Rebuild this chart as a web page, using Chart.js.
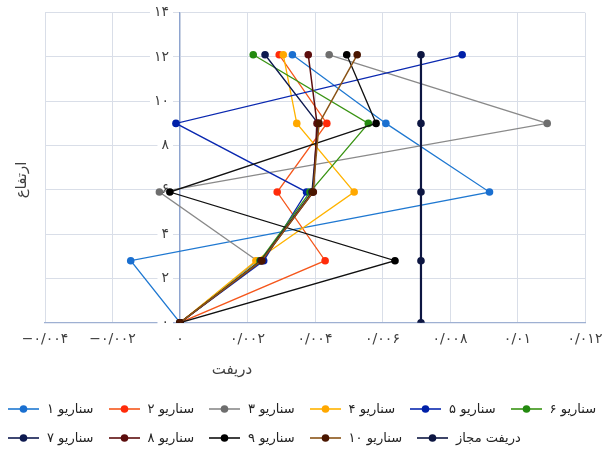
<!DOCTYPE html>
<html><head><meta charset="utf-8">
<script src="https://cdn.jsdelivr.net/npm/chart.js@4.4.1/dist/chart.umd.min.js"></script>
<style>
html,body{margin:0;padding:0;background:#fff;}
#wrap{position:relative;width:605px;height:453px;}
#legend{position:absolute;left:8px;top:394px;font-family:"DejaVu Sans";font-size:13px;color:#222;}
.row{display:flex;align-items:center;height:29px;white-space:nowrap;}
.item{display:flex;align-items:center;margin-right:15px;}
.item svg{margin-right:8px;}
</style></head><body>
<div id="wrap"><canvas id="c" width="605" height="453"></canvas><div id="legend"></div></div>
<script>
// Heights (levels) and drift values per scenario
const heights = [0, 2.8, 5.9, 9.0, 12.1];
const seriesNames = ['سناریو ۱','سناریو ۲','سناریو ۳','سناریو ۴','سناریو ۵','سناریو ۶','سناریو ۷','سناریو ۸','سناریو ۹','سناریو ۱۰','دریفت مجاز'];
const s1 = [0, -0.00146, 0.00917, 0.0061, 0.00333];
const s2 = [0, 0.0043, 0.00288, 0.00435, 0.00294];
const s3 = [0, 0.00229, -0.00061, 0.01088, 0.00442];
const s4 = [0, 0.00225, 0.00516, 0.00346, 0.00306];
const s5 = [0, 0.00248, 0.00375, -0.00012, 0.00836];
const s6 = [0, 0.00237, 0.00385, 0.00558, 0.00217];
const s7 = [0, 0.0024, 0.00391, 0.00409, 0.00252];
const s8 = [0, 0.00242, 0.00395, 0.00406, 0.0038];
const s9 = [0, 0.00637, -0.0003, 0.00581, 0.00494];
const s10 = [0, 0.00242, 0.00394, 0.00412, 0.00525];
const allowed = [0.00714, 0.00714, 0.00714, 0.00714, 0.00714];
const xTickLabels = ['−۰/۰۰۴','−۰/۰۰۲','۰','۰/۰۰۲','۰/۰۰۴','۰/۰۰۶','۰/۰۰۸','۰/۰۱','۰/۰۱۲'];
const yTickLabels = ['۰','۲','۴','۶','۸','۱۰','۱۲','۱۴'];
const xTitle = 'دریفت';
const yTitle = 'ارتفاع';

const allSeries = [s1,s2,s3,s4,s5,s6,s7,s8,s9,s10,allowed];
const lineColors = ['#1F78D1','#F5571C','#8A8A8A','#FFB300','#0A28B0','#3A9414','#0E1A50','#5C0D0D','#101010','#8A5316','#0D1642'];
const pointColors = ['#1A6FD0','#FF2B0A','#6E6E6E','#FFA800','#0020A8','#248A10','#0E1A50','#5C0D0D','#000000','#4A1600','#0D1642'];
const lineWidths = [1.3,1.3,1.3,1.3,1.3,1.3,1.4,1.5,1.3,1.5,2.2];

const datasets = allSeries.map((vals, i) => ({
  label: seriesNames[i],
  data: vals.map((v, j) => ({x: v, y: heights[j]})),
  borderColor: lineColors[i],
  backgroundColor: pointColors[i],
  pointBackgroundColor: pointColors[i],
  pointBorderColor: pointColors[i],
  borderWidth: lineWidths[i],
  pointRadius: 3.8,
  pointBorderWidth: 0,
  showLine: true,
  fill: false,
  tension: 0,
  order: -i
}));

const titlePlugin = {
  id: 'titles',
  beforeDraw(chart) {
    // move the y labels a little further left of the axis line
    const ys = chart.scales.y;
    const items = ys.getLabelItems();
    items.forEach(it => {
      if (!it._shifted) { it.options.translation[0] -= 11; it._shifted = true; }
    });
  },
  afterDraw(chart) {
    const ctx = chart.ctx;
    ctx.save();
    ctx.font = '15px "DejaVu Sans"';
    ctx.fillStyle = '#404040';
    ctx.textAlign = 'center';
    ctx.textBaseline = 'middle';
    ctx.fillText(xTitle, 232, 370);
    ctx.translate(22, 180);
    ctx.rotate(-Math.PI / 2);
    ctx.fillText(yTitle, 0, 0);
    ctx.restore();
  }
};

new Chart(document.getElementById('c'), {
  type: 'scatter',
  data: { datasets },
  plugins: [titlePlugin],
  options: {
    responsive: false,
    animation: false,
    layout: { padding: { left: 45, right: 20, top: 12.7, bottom: 100.3 } },
    plugins: { legend: { display: false }, tooltip: { enabled: false } },
    scales: {
      x: {
        type: 'linear', position: 'bottom', min: -0.004, max: 0.012,
        ticks: { stepSize: 0.002, autoSkip: false, maxRotation: 0, padding: 8,
          callback: (v, i) => xTickLabels[i],
          font: { family: 'DejaVu Sans', size: 14 }, color: '#404040' },
        grid: { color: '#D9DEE8', drawTicks: false },
        border: { color: '#9EB0D2', width: 1.2 },
        afterFit(s) { s.height = 30; s.paddingLeft = 0; s.paddingRight = 0; }
      },
      y: {
        type: 'linear', position: { x: 0 }, min: 0, max: 14,
        ticks: { stepSize: 2, padding: 0, autoSkip: false,
          callback: (v, i) => yTickLabels[i],
          font: { family: 'DejaVu Sans', size: 14 }, color: '#404040',
          showLabelBackdrop: true, backdropColor: '#ffffff', backdropPadding: { x: 4, y: 1 } },
        grid: { color: '#D9DEE8', drawTicks: false },
        border: { color: '#8EA4CF', width: 1.2 },
        afterFit(s) { s.paddingTop = 0; s.paddingBottom = 0; }
      }
    }
  }
});

// HTML legend built from the names and colours
const legend = document.getElementById('legend');
const rows = [[0,1,2,3,4,5],[6,7,8,9,10]];
rows.forEach(r => {
  const row = document.createElement('div');
  row.className = 'row';
  r.forEach(i => {
    const it = document.createElement('div');
    it.className = 'item';
    it.innerHTML = '<svg width="31" height="10"><line x1="0" y1="5" x2="31" y2="5" stroke="' + lineColors[i] + '" stroke-width="1.6"/><circle cx="15.5" cy="5" r="3.8" fill="' + pointColors[i] + '"/></svg><span>' + seriesNames[i] + '</span>';
    row.appendChild(it);
  });
  legend.appendChild(row);
});
</script>
</body></html>
